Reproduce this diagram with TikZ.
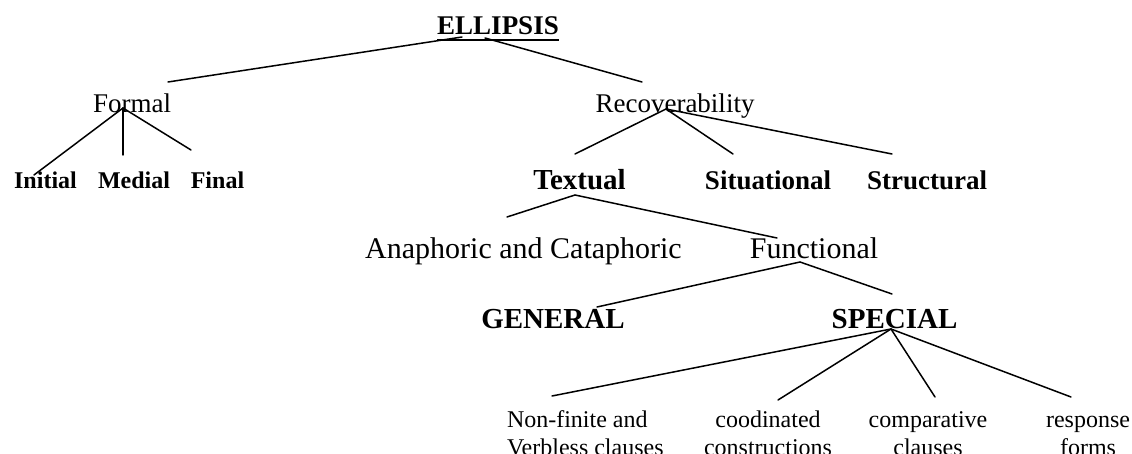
\documentclass[tikz,border=0pt]{standalone}
\usepackage{fontspec}
\setmainfont{Liberation Serif}
\begin{document}
\begin{tikzpicture}[x=1pt,y=-1pt,
  lbl/.style={inner sep=0pt, outer sep=0pt, anchor=base},
  rg/.style={lbl, font=\fontsize{#1}{#1}\selectfont},
  bd/.style={lbl, font=\fontsize{#1}{#1}\selectfont\bfseries},
  leaf/.style={lbl, font=\fontsize{24}{28}\selectfont},
  edge/.style={line width=1.5pt, line cap=round}]
\useasboundingbox (0,0) rectangle (1132,454);
% nodes
\node[bd=27] (ell) at (498,35) {ELLIPSIS};
\node[rg=27] (formal) at (132,113) {Formal};
\node[rg=27] (recov) at (675,113) {Recoverability};
\node[bd=24] (initial) at (45.5,189) {Initial};
\node[bd=24] (medial) at (134,189) {Medial};
\node[bd=24] (final) at (217.5,189) {Final};
\node[bd=29] (textual) at (579.5,190) {Textual};
\node[bd=27] (situational) at (768,190) {Situational};
\node[bd=27] (structural) at (927,190) {Structural};
\node[rg=30] (anacata) at (523.5,259) {Anaphoric and Cataphoric};
\node[rg=30] (functional) at (814,259) {Functional};
\node[bd=29] (general) at (553,328) {GENERAL};
\node[bd=29] (special) at (894.5,328) {SPECIAL};
\node[leaf, anchor=base west] (nonfinite) at (507,427) {\begin{tabular}[t]{@{}l@{}}Non-finite and\\Verbless clauses\end{tabular}};
\node[leaf] (coord) at (768,427) {\begin{tabular}[t]{@{}c@{}}coodinated\\constructions\end{tabular}};
\node[leaf] (compar) at (928,427) {\begin{tabular}[t]{@{}c@{}}comparative\\clauses\end{tabular}};
\node[leaf] (resp) at (1088,427) {\begin{tabular}[t]{@{}c@{}}response\\forms\end{tabular}};
% underline of title
\draw[line width=2pt] ([yshift=-5pt]ell.base west) -- ([yshift=-5pt]ell.base east);
% connector end points
\coordinate (ellL) at (462,37);
\coordinate (ellR) at (485,38);
\coordinate (formalT) at (168,82);
\coordinate (recovT) at (642,82);
\coordinate (formalB) at (123,108);
\coordinate (initialT) at (34,175);
\coordinate (medialT) at (123,155);
\coordinate (finalT) at (191,150);
\coordinate (recovB) at (666,109);
\coordinate (textualT) at (575,154);
\coordinate (situationalT) at (733,154);
\coordinate (structuralT) at (892,154);
\coordinate (textualB) at (575,195);
\coordinate (anacataT) at (507,217);
\coordinate (functionalT) at (777,238);
\coordinate (functionalB) at (800,262);
\coordinate (generalT) at (597,307);
\coordinate (specialT) at (892,294);
\coordinate (specialB) at (891,329);
\coordinate (nonfiniteT) at (552,396);
\coordinate (coordT) at (778,400);
\coordinate (comparT) at (935,397);
\coordinate (respT) at (1071,397);
% connectors
\draw[edge] (ellL) -- (formalT);
\draw[edge] (ellR) -- (recovT);
\draw[edge] (formalB) -- (initialT);
\draw[edge] (formalB) -- (medialT);
\draw[edge] (formalB) -- (finalT);
\draw[edge] (recovB) -- (textualT);
\draw[edge] (recovB) -- (situationalT);
\draw[edge] (recovB) -- (structuralT);
\draw[edge] (textualB) -- (anacataT);
\draw[edge] (textualB) -- (functionalT);
\draw[edge] (functionalB) -- (generalT);
\draw[edge] (functionalB) -- (specialT);
\draw[edge] (specialB) -- (nonfiniteT);
\draw[edge] (specialB) -- (coordT);
\draw[edge] (specialB) -- (comparT);
\draw[edge] (specialB) -- (respT);
\end{tikzpicture}
\end{document}
